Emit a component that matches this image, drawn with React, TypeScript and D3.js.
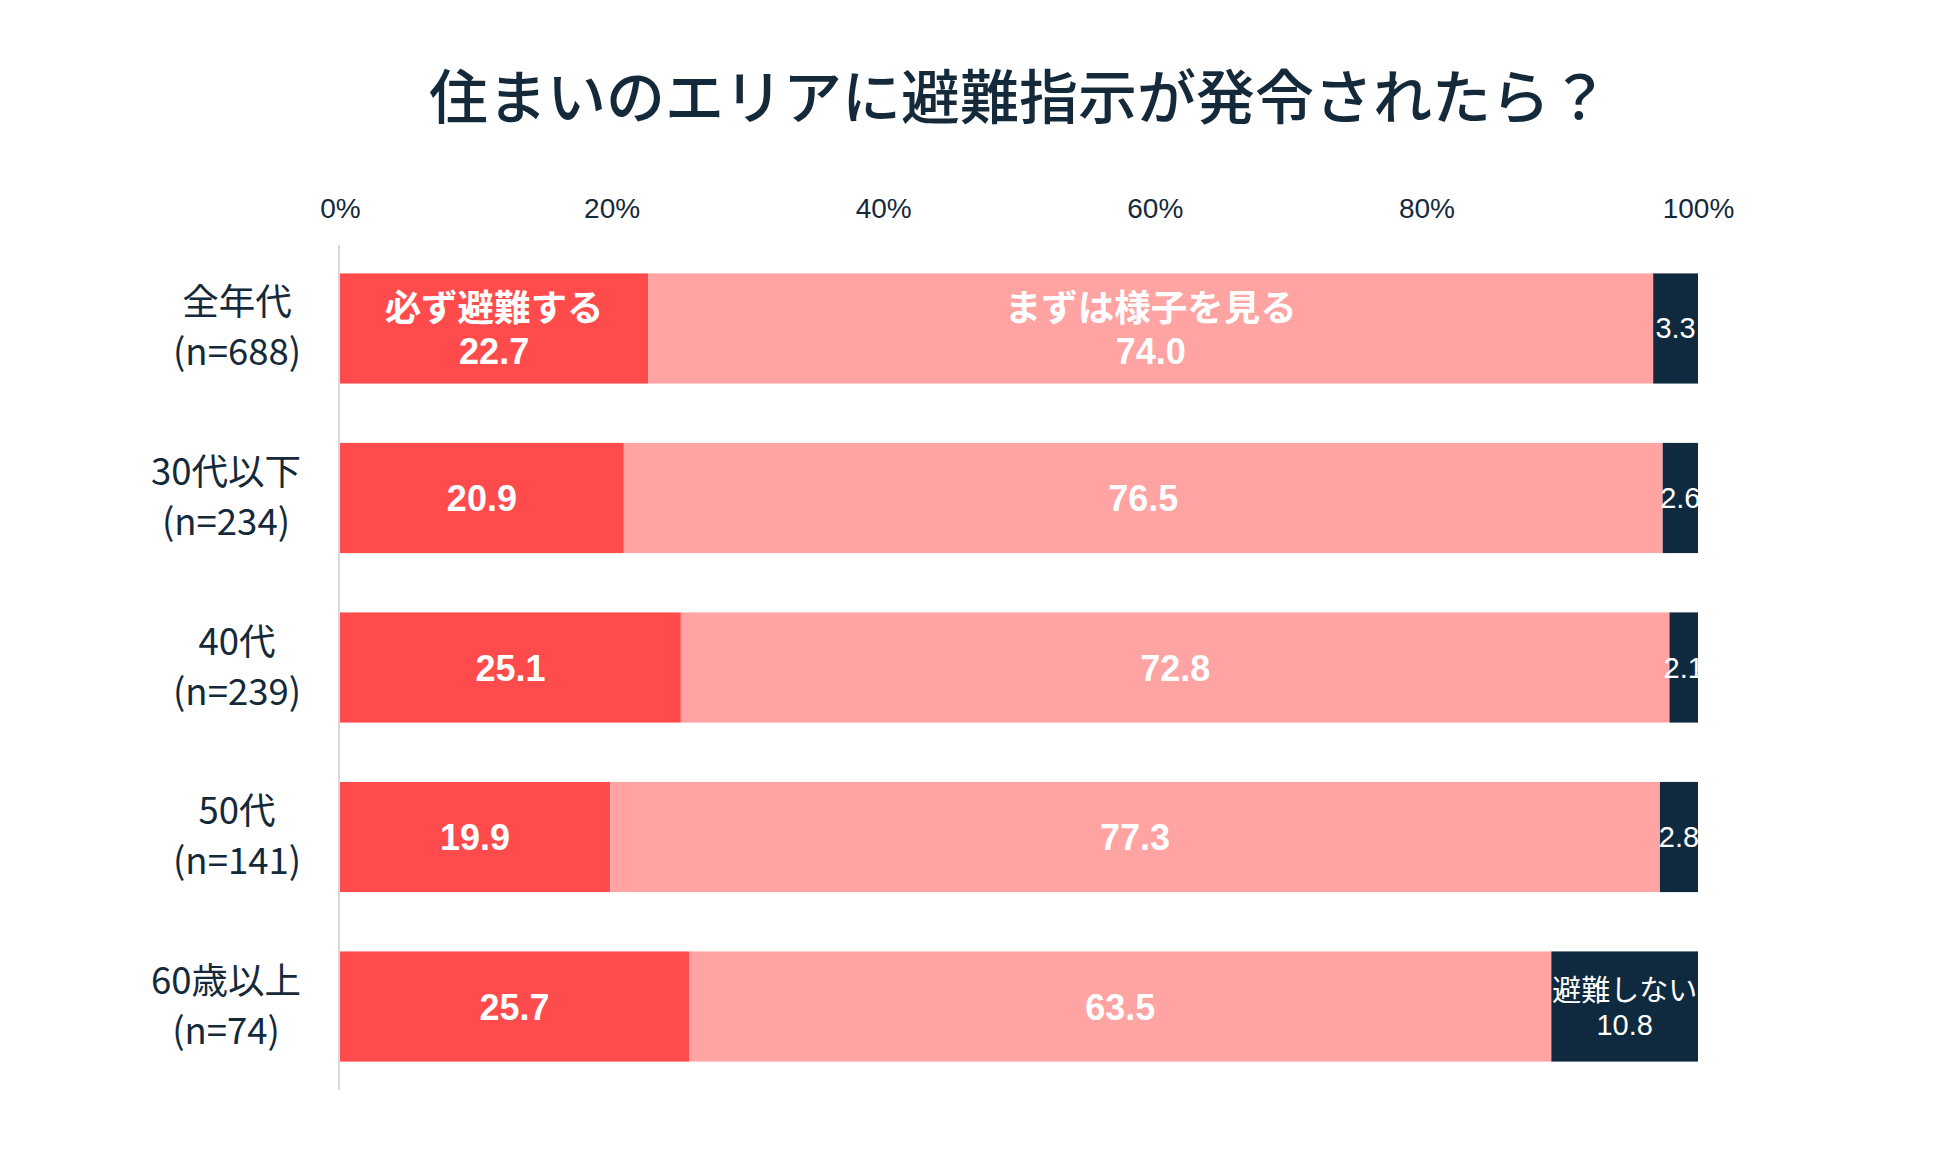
import * as d3 from "d3";
import { useEffect, useRef } from "react";

const title = "住まいのエリアに避難指示が発令されたら？";
const categories = ["全年代", "30代以下", "40代", "50代", "60歳以上"];
const sampleSizes = [688, 234, 239, 141, 74];
const seriesNames = ["必ず避難する", "まずは様子を見る", "避難しない"];
const mustEvacuate = [22.7, 20.9, 25.1, 19.9, 25.7];
const waitAndSee = [74.0, 76.5, 72.8, 77.3, 63.5];
const wontEvacuate = [3.3, 2.6, 2.1, 2.8, 10.8];
const xTicks = [0, 20, 40, 60, 80, 100];

const INK = "#14293a";
const seriesStyle = [
  { color: "#ff4b4b", bold: true },
  { color: "#ffa3a3", bold: true },
  { color: "#0f2a3e", bold: false },
];

const W = 1950;
const H = 1154;

export default function App() {
  const ref = useRef<SVGSVGElement>(null);

  useEffect(() => {
    if (!ref.current) return;
    const svg = d3.select(ref.current);
    svg.selectAll("*").remove();

    const x = d3.scaleLinear().domain([0, 100]).range([340, 1698]);
    const y = d3
      .scaleBand<string>()
      .domain(categories)
      .range([245, 1090])
      .paddingInner(0.35)
      .paddingOuter(0.1675);
    const bw = y.bandwidth();

    const keys = ["must", "wait", "no"];
    const rows = categories.map((c, i) => ({
      category: c,
      must: mustEvacuate[i],
      wait: waitAndSee[i],
      no: wontEvacuate[i],
    }));
    const stacked = d3.stack<any>().keys(keys)(rows);

    svg
      .append("defs")
      .append("clipPath")
      .attr("id", "plot-clip")
      .append("rect")
      .attr("x", x(0))
      .attr("y", 0)
      .attr("width", x(100) - x(0) + 1)
      .attr("height", H);

    // title
    svg
      .append("text")
      .attr("x", (x(0) + x(100)) / 2)
      .attr("y", 119)
      .attr("text-anchor", "middle")
      .attr("font-family", "'Noto Sans CJK JP', 'Noto Sans', sans-serif")
      .attr("font-size", 59)
      .attr("font-weight", 500)
      .attr("fill", INK)
      .text(title);

    // x tick labels on top
    const ax = svg
      .append("g")
      .attr("transform", "translate(0,218)")
      .call(
        d3
          .axisTop(x)
          .tickValues(xTicks)
          .tickSize(0)
          .tickPadding(0)
          .tickFormat((d) => `${d}%`)
      );
    ax.select(".domain").remove();
    ax.attr("font-family", "'Liberation Sans', Arial, sans-serif")
      .attr("font-size", 28)
      .attr("color", INK);

    // left axis line
    svg
      .append("line")
      .attr("x1", x(0) - 1)
      .attr("x2", x(0) - 1)
      .attr("y1", 245)
      .attr("y2", 1090)
      .attr("stroke", "#d9d9d9")
      .attr("stroke-width", 2);

    // bars
    stacked.forEach((layer, k) => {
      svg
        .append("g")
        .attr("fill", seriesStyle[k].color)
        .selectAll("rect")
        .data(layer)
        .join("rect")
        .attr("x", (d) => x(d[0]))
        .attr("y", (d) => y(d.data.category)!)
        .attr("width", (d) => x(d[1]) - x(d[0]))
        .attr("height", bw);
    });

    // segment labels
    const labels = svg.append("g").attr("clip-path", "url(#plot-clip)");
    stacked.forEach((layer, k) => {
      const st = seriesStyle[k];
      const values = layer.map((d) => d[1] - d[0]);
      const nameRow = values.findIndex((v) => v > 10);
      layer.forEach((d, i) => {
        const cx = (x(d[0]) + x(d[1])) / 2;
        const cy = y(d.data.category)! + bw / 2;
        const val = values[i].toFixed(1);
        const lines = i === nameRow ? [seriesNames[k], val] : [val];
        const offs = st.bold
          ? lines.length === 2 ? [-7, 36] : [13]
          : lines.length === 2 ? [-5.5, 28] : [10];
        lines.forEach((t, j) => {
          labels
            .append("text")
            .attr("x", cx)
            .attr("y", cy + offs[j])
            .attr("text-anchor", "middle")
            .attr("font-family", "'Liberation Sans', Arial, 'Noto Sans CJK JP', sans-serif")
            .attr("font-size", st.bold ? (j === 0 && lines.length === 2 ? 36.5 : 36) : 29)
            .attr("font-weight", st.bold ? 700 : 400)
            .attr("fill", "#fff")
            .text(t);
        });
      });
    });

    // category labels: block right-aligned, lines centered in the block
    categories.forEach((c, i) => {
      const cy = y(c)! + bw / 2;
      const g = svg.append("g");
      const lines = [c, `(n=${sampleSizes[i]})`];
      const texts = lines.map((t, j) =>
        g
          .append("text")
          .attr("x", 0)
          .attr("y", cy + (j === 0 ? -13 : 37))
          .attr("text-anchor", "middle")
          .attr("font-family", "'Noto Sans CJK JP', 'Noto Sans', sans-serif")
          .attr("font-size", 36.5)
          .attr("fill", INK)
          .text(t)
      );
      const maxW = d3.max(texts, (t) => (t.node() as SVGTextElement).getComputedTextLength()) || 0;
      g.attr("transform", `translate(${301 - maxW / 2},0)`);
    });
  }, []);

  return (
    <div style={{ position: "absolute", left: 0, top: 0, background: "#fff" }}>
      <svg ref={ref} width={W} height={H} style={{ display: "block" }} />
    </div>
  );
}
